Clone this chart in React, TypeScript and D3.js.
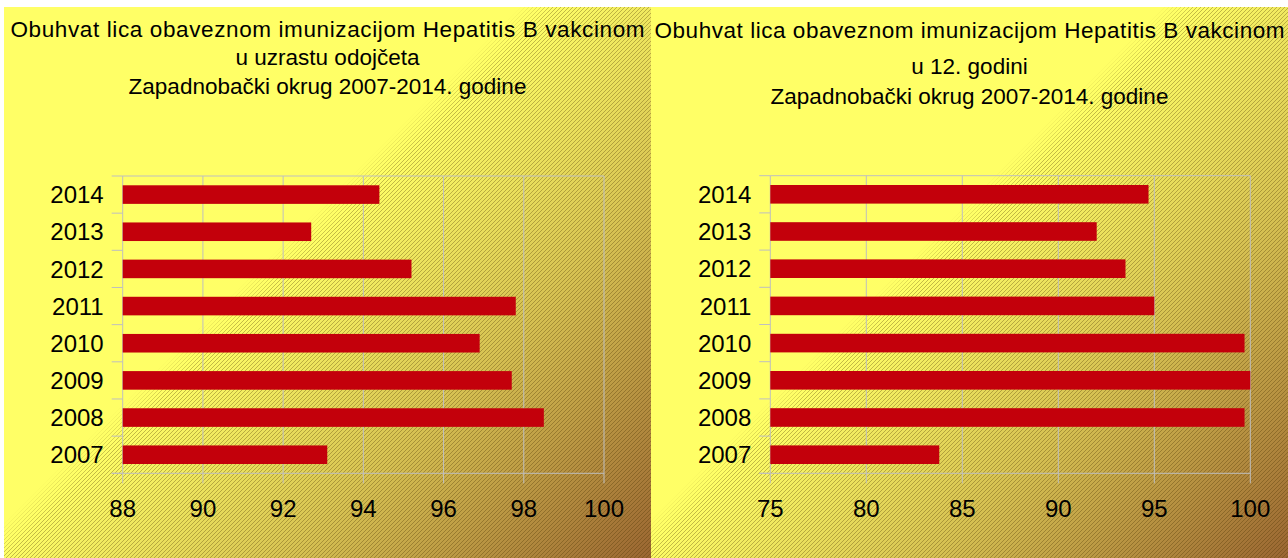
import React from 'react';
import * as d3 from 'd3';

const years = ['2014', '2013', '2012', '2011', '2010', '2009', '2008', '2007'];
const infantCoverage = [94.4, 92.7, 95.2, 97.8, 96.9, 97.7, 98.5, 93.1];
const age12Coverage = [94.7, 92.0, 93.5, 95.0, 99.7, 100.0, 99.7, 83.8];
const infantTicks = [88, 90, 92, 94, 96, 98, 100];
const age12Ticks = [75, 80, 85, 90, 95, 100];
const infantTitle = [
  'Obuhvat lica obaveznom imunizacijom Hepatitis B vakcinom',
  'u uzrastu odojčeta',
  'Zapadnobački okrug 2007-2014. godine',
];
const age12Title = [
  'Obuhvat lica obaveznom imunizacijom Hepatitis B vakcinom',
  'u 12. godini',
  'Zapadnobački okrug 2007-2014. godine',
];

const FONT = "'Liberation Sans', Arial, Helvetica, sans-serif";
const GRID = '#BFBFBF';
const BAR = '#C3000B';

type PanelProps = {
  id: string;
  x0: number;
  y0: number;
  w: number;
  h: number;
  title: string[];
  titleBaselines: number[];
  titleWidth: number;
  values: number[];
  ticks: number[];
  plotLeft: number;
  plotRight: number;
  plotTop: number;
  plotBottom: number;
};

function Panel(p: PanelProps) {
  const x = d3.scaleLinear().domain([p.ticks[0], p.ticks[p.ticks.length - 1]]).range([p.plotLeft, p.plotRight]);
  const y = d3.scaleBand<string>().domain(years).range([p.plotTop, p.plotBottom]).paddingInner(0.5).paddingOuter(0.25);
  const step = y.step();
  const cx = p.x0 + p.w / 2;
  const d = (p.w + p.h) / 2;
  const boundaries = d3.range(years.length + 1).map((i) => p.plotTop + i * step);
  return (
    <g>
      <defs>
        <linearGradient id={`grad-${p.id}`} gradientUnits="userSpaceOnUse" x1={p.x0} y1={p.y0} x2={p.x0 + d} y2={p.y0 + d}>
          <stop offset="0" stopColor="#FFFF66" />
          <stop offset="0.45" stopColor="#FFFF66" />
          <stop offset="0.7" stopColor="#D6C152" />
          <stop offset="1" stopColor="#9A6632" />
        </linearGradient>
        <linearGradient id={`mgrad-${p.id}`} gradientUnits="userSpaceOnUse" x1={p.x0} y1={p.y0} x2={p.x0 + d} y2={p.y0 + d}>
          <stop offset="0" stopColor="#000" />
          <stop offset="0.43" stopColor="#000" />
          <stop offset="0.46" stopColor="#fff" />
          <stop offset="1" stopColor="#fff" />
        </linearGradient>
        <mask id={`mask-${p.id}`} maskUnits="userSpaceOnUse" x={p.x0} y={p.y0} width={p.w} height={p.h}>
          <rect x={p.x0} y={p.y0} width={p.w} height={p.h} fill={`url(#mgrad-${p.id})`} />
        </mask>
      </defs>
      <rect x={p.x0} y={p.y0} width={p.w} height={p.h} fill={`url(#grad-${p.id})`} />
      <rect x={p.x0} y={p.y0} width={p.w} height={p.h} fill="url(#hatch)" mask={`url(#mask-${p.id})`} />

      {p.title.map((t, i) => (
        <text
          key={i}
          x={cx}
          y={p.titleBaselines[i]}
          textAnchor="middle"
          fontFamily={FONT}
          fontSize={22.5}
          fill="#000"
          {...(i === 0 ? { textLength: p.titleWidth, lengthAdjust: 'spacing' } : {})}
        >
          {t}
        </text>
      ))}

      {p.ticks.map((t) => (
        <line key={`g${t}`} x1={x(t)} x2={x(t)} y1={p.plotTop} y2={p.plotBottom + 10} stroke={GRID} strokeWidth={1} />
      ))}
      <line x1={p.plotLeft} x2={p.plotRight} y1={p.plotTop} y2={p.plotTop} stroke={GRID} strokeWidth={1} />
      <line x1={p.plotLeft - 11} x2={p.plotRight} y1={p.plotBottom} y2={p.plotBottom} stroke={GRID} strokeWidth={1} />
      {boundaries.map((b, i) => (
        <line key={`c${i}`} x1={p.plotLeft - 11} x2={p.plotLeft} y1={b} y2={b} stroke={GRID} strokeWidth={1} />
      ))}

      {years.map((yr, i) => (
        <rect
          key={`b${yr}`}
          x={x(p.ticks[0])}
          y={y(yr)}
          width={x(p.values[i]) - x(p.ticks[0])}
          height={y.bandwidth()}
          fill={BAR}
        />
      ))}

      {years.map((yr) => (
        <text
          key={`l${yr}`}
          x={p.plotLeft - 19}
          y={(y(yr) as number) + y.bandwidth() / 2 + 8.6}
          textAnchor="end"
          fontFamily={FONT}
          fontSize={24}
          fill="#000"
        >
          {yr}
        </text>
      ))}
      {p.ticks.map((t) => (
        <text key={`t${t}`} x={x(t)} y={517} textAnchor="middle" fontFamily={FONT} fontSize={24} fill="#000">
          {t}
        </text>
      ))}
    </g>
  );
}

export default function App() {
  return (
    <svg
      width={1288}
      height={558}
      viewBox="0 0 1288 558"
      style={{ position: 'absolute', left: 0, top: 0, background: '#fff' }}
    >
      <defs>
        <pattern id="hatch" patternUnits="userSpaceOnUse" width={4} height={4}>
          <path d="M0,4 L4,0 M-1,1 L1,-1 M3,5 L5,3" stroke="rgba(70,50,0,0.32)" strokeWidth={1} />
        </pattern>
      </defs>
      <Panel
        id="left"
        x0={4}
        y0={7}
        w={647}
        h={551}
        title={infantTitle}
        titleBaselines={[37, 65, 94]}
        titleWidth={634}
        values={infantCoverage}
        ticks={infantTicks}
        plotLeft={122.7}
        plotRight={604}
        plotTop={176}
        plotBottom={473.3}
      />
      <Panel
        id="right"
        x0={651}
        y0={7}
        w={637}
        h={551}
        title={age12Title}
        titleBaselines={[38, 74, 104]}
        titleWidth={630}
        values={age12Coverage}
        ticks={age12Ticks}
        plotLeft={770.3}
        plotRight={1250.3}
        plotTop={175.7}
        plotBottom={473.3}
      />
    </svg>
  );
}
